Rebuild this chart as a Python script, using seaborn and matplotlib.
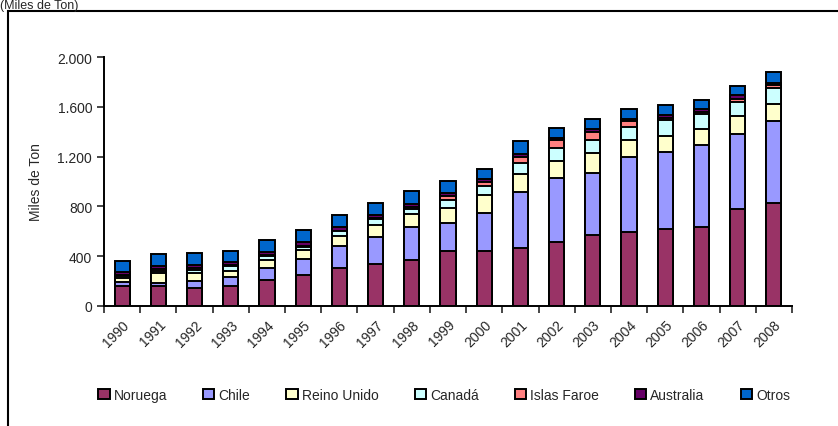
import numpy as np
import pandas as pd
import matplotlib
matplotlib.use("Agg")
import matplotlib.pyplot as plt
import seaborn as sns
from matplotlib.patches import Patch, Rectangle
from matplotlib.ticker import FuncFormatter, FixedLocator

years = [str(y) for y in range(1990, 2009)]
noruega = [163, 163, 142, 159, 209, 250, 306, 338, 373, 445, 445, 467, 518, 574, 593, 620, 638, 781, 829]
chile = [28, 25, 62, 72, 97, 128, 175, 220, 261, 221, 301, 448, 510, 494, 601, 617, 652, 598, 660]
reino_unido = [35, 75, 62, 53, 64, 73, 85, 94, 101, 123, 142, 148, 134, 161, 137, 129, 135, 145, 135]
canada = [15, 22, 26, 36, 35, 26, 35, 48, 46, 64, 72, 86, 110, 107, 104, 126, 118, 116, 123]
islas_faroe = [10, 15, 15, 10, 5, 8, 5, 8, 18, 27, 36, 48, 59, 62, 49, 15, 15, 20, 25]
australia = [25, 25, 26, 22, 22, 33, 28, 25, 22, 27, 26, 21, 21, 21, 16, 25, 28, 33, 20]
otros = [88, 92, 94, 93, 102, 94, 100, 96, 102, 97, 81, 108, 81, 81, 80, 80, 72, 72, 88]

series = ["Noruega", "Chile", "Reino Unido", "Canadá", "Islas Faroe", "Australia", "Otros"]
colors = ["#993366", "#9999FF", "#FFFFCC", "#CCFFFF", "#FF8080", "#660066", "#0066CC"]

df = pd.DataFrame({"Año": years, "Noruega": noruega, "Chile": chile,
                   "Reino Unido": reino_unido, "Canadá": canada,
                   "Islas Faroe": islas_faroe, "Australia": australia, "Otros": otros})
cum = df[series].cumsum(axis=1)

sns.set_style("white")
plt.rcParams["font.family"] = ["Liberation Sans", "DejaVu Sans"]

fig = plt.figure(figsize=(8.38, 4.27), dpi=100)
ax = fig.add_axes([104 / 838, 120 / 427, 688 / 838, 249 / 427])

# stacked bars: draw cumulative totals from the top series down
for name, col in reversed(list(zip(series, colors))):
    sns.barplot(x=df["Año"], y=cum[name], color=col, width=0.42,
                edgecolor="black", linewidth=1.4, saturation=1, ax=ax)

ax.set_ylim(0, 2000)
ax.set_xlim(-0.5, len(years) - 0.5)
ax.set_yticks(range(0, 2001, 400))
ax.yaxis.set_major_formatter(FuncFormatter(lambda v, p: f"{int(v):,}".replace(",", ".")))
ax.set_ylabel("Miles de Ton", fontsize=10, labelpad=10)
ax.set_xlabel("")
ax.set_xticks(range(len(years)))
ax.set_xticklabels(years, rotation=45, ha="right", rotation_mode="anchor", fontsize=10)
ax.tick_params(axis="x", which="major", length=0, pad=8)
ax.xaxis.set_minor_locator(FixedLocator(np.arange(-0.5, len(years), 1)))
ax.tick_params(axis="x", which="minor", length=5, width=1.2, direction="out", bottom=True)
ax.tick_params(axis="y", length=5, width=1.2, direction="out", left=True, labelsize=10)
sns.despine(ax=ax)
for s in ["left", "bottom"]:
    ax.spines[s].set_color("black")
    ax.spines[s].set_linewidth(1.4)

handles = [Patch(facecolor=c, edgecolor="black", linewidth=1.4) for c in colors]
fig.legend(handles, series, loc="center", bbox_to_anchor=(0.53, 0.073), ncol=7,
           frameon=False, fontsize=10, handlelength=0.8, handleheight=0.8,
           handletextpad=0.3, columnspacing=2.6)

fig.patches.append(Rectangle((8 / 838, -0.05), 1.0, 1.05 - 12 / 427,
                             transform=fig.transFigure, fill=False,
                             edgecolor="black", linewidth=1.5))
fig.text(0.0, 0.999, "(Miles de Ton)", fontsize=9, ha="left", va="top")

fig.savefig("out.png", dpi=100)
